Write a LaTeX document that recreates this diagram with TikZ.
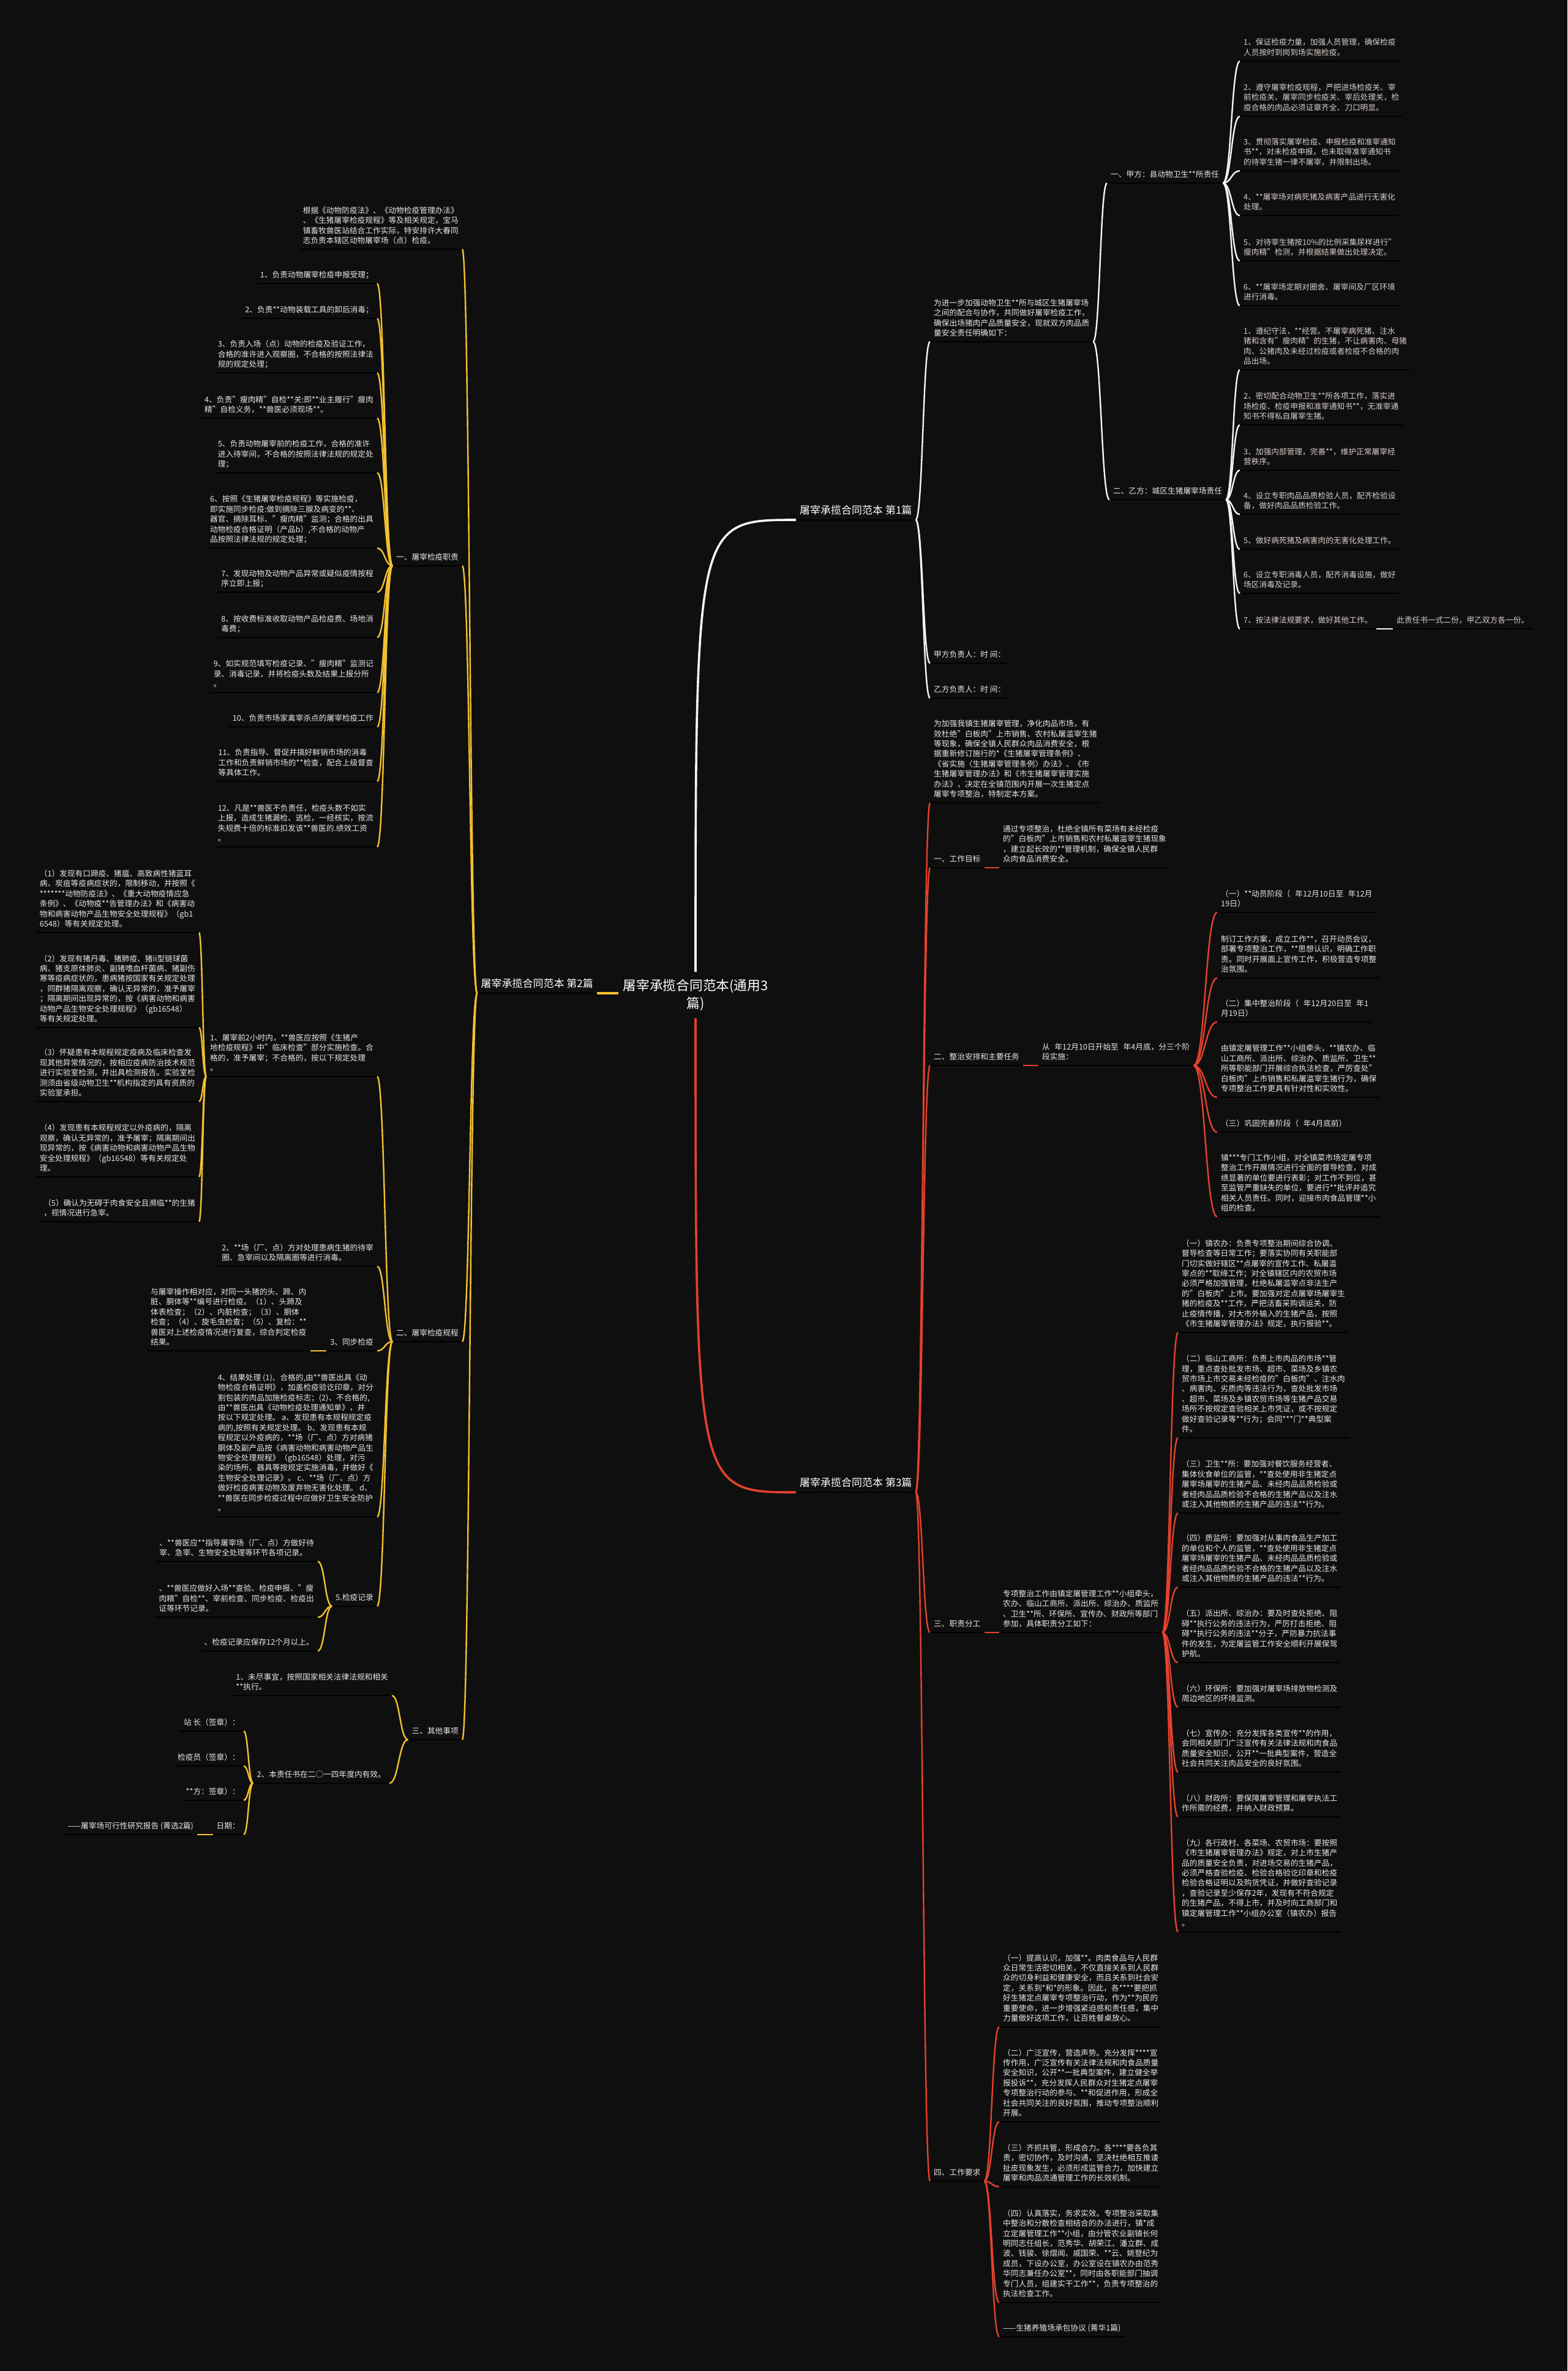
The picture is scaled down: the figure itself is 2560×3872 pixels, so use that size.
\documentclass[tikz,border=0pt]{standalone}
\usepackage{fontspec}
\setmainfont{Noto Sans CJK SC}
\usetikzlibrary{calc}

\definecolor{bg}{HTML}{0F0F0F}
\definecolor{wline}{HTML}{F4F4F4}
\definecolor{yline}{HTML}{F2C12E}
\definecolor{rline}{HTML}{E4412D}
\definecolor{txt}{HTML}{E8E8E8}
\definecolor{txtw}{HTML}{D9D0CC}

\newcommand\leaffont{\fontsize{12.7}{16.4}\selectfont}
\newcommand\topfont{\fontsize{17}{21}\selectfont}
\newcommand\rootfont{\fontsize{21.7}{29}\selectfont}

\tikzset{
  leaf/.style={inner xsep=6pt, inner ysep=4.5pt, text depth=4.9pt, align=left,
    font=\leaffont, text=txt,
    append after command={(\tikzlastnode.south west) edge[draw=black, line width=2pt] (\tikzlastnode.south east)}},
  rleaf/.style={leaf, anchor=south west},
  lleaf/.style={leaf, anchor=south east},
  wtxt/.style={text=txtw},
  top/.style={leaf, font=\topfont, text=white},
  rootbox/.style={align=center, font=\rootfont, text=white, inner xsep=8pt, inner ysep=12pt},
  link/.style={line width=2.4pt, to path={let \p1=(\tikztostart), \p2=(\tikztotarget),
    \p3=($(\p1)!0.5!(\p2)$) in .. controls (\x3,\y1) and (\x3,\y2) .. (\p2)}},
  trunk/.style={line width=3.6pt, to path={let \p1=(\tikztostart), \p2=(\tikztotarget)
    in .. controls (\x1,\y2) .. (\p2)}},
  wlink/.style={link, draw=wline},
  ylink/.style={link, draw=yline},
  rlink/.style={link, draw=rline},
}

\begin{document}
\begin{tikzpicture}[x=1pt, y=-1pt]
  % background
  \fill[bg] (0,0) rectangle (2560,3872);
  \useasboundingbox (0,0) rectangle (2560,3872);

  % root
  \node[rootbox] (root) at (1136,1625) {屠宰承揽合同范本(通用3\\篇)};

  % 第1篇
  \node[top, anchor=south west] (part1) at (1300,849) {屠宰承揽合同范本 第1篇};
  \node[rleaf] (intro1) at (1519,558) {为进一步加强动物卫生**所与城区生猪屠宰场\\之间的配合与协作，共同做好屠宰检疫工作，\\确保出场猪肉产品质量安全，现就双方肉品质\\量安全责任明确如下：};
  \node[rleaf] (jiasign) at (1519,1083) {甲方负责人：时 间：};
  \node[rleaf] (yisign) at (1519,1140) {乙方负责人：时 间：};
  \node[rleaf] (jia) at (1808,299) {一、甲方：县动物卫生**所责任};
  \node[rleaf] (yi) at (1812,816) {二、乙方：城区生猪屠宰场责任};
  \node[rleaf, wtxt] (jia1) at (2025,100) {1、保证检疫力量，加强人员管理，确保检疫\\人员按时到岗到场实施检疫。};
  \node[rleaf, wtxt] (jia2) at (2025,190) {2、遵守屠宰检疫规程，严把进场检疫关、宰\\前检疫关、屠宰同步检疫关、宰后处理关，检\\疫合格的肉品必须证章齐全、刀口明显。};
  \node[rleaf, wtxt] (jia3) at (2025,279) {3、贯彻落实屠宰检疫、申报检疫和准宰通知\\书**，对未检疫申报，也未取得准宰通知书\\的待宰生猪一律不屠宰，并限制出场。};
  \node[rleaf, wtxt] (jia4) at (2025,352) {4、**屠宰场对病死猪及病害产品进行无害化\\处理。};
  \node[rleaf, wtxt] (jia5) at (2025,426) {5、对待宰生猪按10\%的比例采集尿样进行"\\瘦肉精"检测，并根据结果做出处理决定。};
  \node[rleaf, wtxt] (jia6) at (2025,499) {6、**屠宰场定期对圈舍、屠宰间及厂区环境\\进行消毒。};
  \node[rleaf, wtxt] (yi1) at (2025,604) {1、遵纪守法，**经营。不屠宰病死猪、注水\\猪和含有"瘦肉精"的生猪，不让病害肉、母猪\\肉、公猪肉及未经过检疫或者检疫不合格的肉\\品出场。};
  \node[rleaf, wtxt] (yi2) at (2025,694) {2、密切配合动物卫生**所各项工作，落实进\\场检疫、检疫申报和准宰通知书**，无准宰通\\知书不得私自屠宰生猪。};
  \node[rleaf, wtxt] (yi3) at (2025,768) {3、加强内部管理，完善**，维护正常屠宰经\\营秩序。};
  \node[rleaf, wtxt] (yi4) at (2025,840) {4、设立专职肉品品质检验人员，配齐检验设\\备，做好肉品品质检验工作。};
  \node[rleaf, wtxt] (yi5) at (2025,897) {5、做好病死猪及病害肉的无害化处理工作。};
  \node[rleaf, wtxt] (yi6) at (2025,969) {6、设立专职消毒人员，配齐消毒设施，做好\\场区消毒及记录。};
  \node[rleaf, wtxt] (yi7) at (2025,1027) {7、按法律法规要求，做好其他工作。};
  \node[rleaf, wtxt] (copies) at (2275,1027) {此责任书一式二份，甲乙双方各一份。};

  \draw[trunk, draw=wline] (root.north) to (part1.south west);
  \foreach \m in {intro1, jiasign, yisign}
    \draw[wlink] (part1.south east) to (\m.south west);
  \foreach \m in {jia, yi}
    \draw[wlink] (intro1.south east) to (\m.south west);
  \foreach \i in {1,...,6}
    \draw[wlink] (jia.south east) to (jia\i.south west);
  \foreach \i in {1,...,7}
    \draw[wlink] (yi.south east) to (yi\i.south west);
  \draw[draw=wline, line width=2.4pt] (yi7.south east) -- (copies.south west);

  % 第2篇
  \node[top, anchor=south east] (part2) at (975,1622) {屠宰承揽合同范本 第2篇};
  \node[lleaf] (intro2) at (755,407) {根据《动物防疫法》、《动物检疫管理办法》\\、《生猪屠宰检疫规程》等及相关规定，宝马\\镇畜牧兽医站结合工作实际，特安排许大春同\\志负责本辖区动物屠宰场（点）检疫。};
  \node[lleaf] (duty) at (755,924) {一、屠宰检疫职责};
  \node[lleaf] (duty1) at (616,463) {1、负责动物屠宰检疫申报受理；};
  \node[lleaf] (duty2) at (616,520) {2、负责**动物装载工具的卸后消毒；};
  \node[lleaf] (duty3) at (616,609) {3、负责入场（点）动物的检疫及验证工作，\\合格的准许进入观察圈，不合格的按照法律法\\规的规定处理；};
  \node[lleaf] (duty4) at (616,683) {4、负责"瘦肉精"自检**关:即**业主履行"瘦肉\\精"自检义务，**兽医必须现场**。};
  \node[lleaf] (duty5) at (616,772) {5、负责动物屠宰前的检疫工作，合格的准许\\进入待宰间，不合格的按照法律法规的规定处\\理；};
  \node[lleaf] (duty6) at (616,895) {6、按照《生猪屠宰检疫规程》等实施检疫，\\即实施同步检疫:做到摘除三腺及病变的**、\\器官、摘除耳标、"瘦肉精"监测；合格的出具\\动物检疫合格证明（产品b）,不合格的动物产\\品按照法律法规的规定处理；};
  \node[lleaf] (duty7) at (616,967) {7、发现动物及动物产品异常或疑似疫情按程\\序立即上报；};
  \node[lleaf] (duty8) at (616,1041) {8、按收费标准收取动物产品检疫费、场地消\\毒费；};
  \node[lleaf] (duty9) at (616,1131) {9、如实规范填写检疫记录、"瘦肉精"监测记\\录、消毒记录，并将检疫头数及结果上报分所\\。};
  \node[lleaf] (duty10) at (616,1187) {10、负责市场家禽宰杀点的屠宰检疫工作};
  \node[lleaf] (duty11) at (616,1276) {11、负责指导、督促并搞好鲜销市场的消毒\\工作和负责鲜销市场的**检查，配合上级督查\\等具体工作。};
  \node[lleaf] (duty12) at (616,1383) {12、凡是**兽医不负责任，检疫头数不如实\\上报，造成生猪漏检、逃检，一经核实，按流\\失规费十倍的标准扣发该**兽医的.绩效工资\\。};

  \node[lleaf] (rules) at (755,2191) {二、屠宰检疫规程};
  \node[lleaf] (rule1) at (616,1758) {1、屠宰前2小时内，**兽医应按照《生猪产\\地检疫规程》中"临床检查"部分实施检查。合\\格的，准予屠宰；不合格的，按以下规定处理\\。};
  \node[lleaf] (case1) at (325,1523) {（1）发现有口蹄疫、猪瘟、高致病性猪蓝耳\\病、炭疽等疫病症状的，限制移动，并按照《\\*******动物防疫法》、《重大动物疫情应急\\条例》、《动物疫**告管理办法》和《病害动\\物和病害动物产品生物安全处理规程》（gb1\\6548）等有关规定处理。};
  \node[lleaf] (case2) at (325,1678) {（2）发现有猪丹毒、猪肺疫、猪ii型链球菌\\病、猪支原体肺炎、副猪嗜血杆菌病、猪副伤\\寒等疫病症状的，患病猪按国家有关规定处理\\，同群猪隔离观察，确认无异常的，准予屠宰\\；隔离期间出现异常的，按《病害动物和病害\\动物产品生物安全处理规程》（gb16548）\\等有关规定处理。};
  \node[lleaf] (case3) at (325,1799) {（3）怀疑患有本规程规定疫病及临床检查发\\现其他异常情况的，按相应疫病防治技术规范\\进行实验室检测，并出具检测报告。实验室检\\测须由省级动物卫生**机构指定的具有资质的\\实验室承担。};
  \node[lleaf] (case4) at (325,1922) {（4）发现患有本规程规定以外疫病的，隔离\\观察，确认无异常的，准予屠宰；隔离期间出\\现异常的，按《病害动物和病害动物产品生物\\安全处理规程》（gb16548）等有关规定处\\理。};
  \node[lleaf] (case5) at (325,1995) {（5）确认为无碍于肉食安全且濒临**的生猪\\，视情况进行急宰。};
  \node[lleaf] (rule2) at (616,2068) {2、**场（厂、点）方对处理患病生猪的待宰\\圈、急宰间以及隔离圈等进行消毒。};
  \node[lleaf] (rule3) at (616,2206) {3、同步检疫};
  \node[lleaf] (sync) at (507,2206) {与屠宰操作相对应，对同一头猪的头、蹄、内\\脏、胴体等**编号进行检疫。（1）、头蹄及\\体表检查；（2）、内脏检查；（3）、胴体\\检查；（4）、旋毛虫检查；（5）、复检：**\\兽医对上述检疫情况进行复查，综合判定检疫\\结果。};
  \node[lleaf] (rule4) at (616,2477) {4、结果处理 (1)、合格的,由**兽医出具《动\\物检疫合格证明》，加盖检疫验讫印章，对分\\割包装的肉品加施检疫标志；(2)、不合格的,\\ 由**兽医出具《动物检疫处理通知单》，并\\按以下规定处理。 a、发现患有本规程规定疫\\病的,按照有关规定处理。 b、发现患有本规\\程规定以外疫病的，**场（厂、点）方对病猪\\胴体及副产品按《病害动物和病害动物产品生\\物安全处理规程》（gb16548）处理，对污\\染的场所、器具等按规定实施消毒，并做好《\\生物安全处理记录》。 c、**场（厂、点）方\\做好检疫病害动物及废弃物无害化处理。 d、\\**兽医在同步检疫过程中应做好卫生安全防护\\。};
  \node[lleaf] (rule5) at (616,2623) {5.检疫记录};
  \node[lleaf] (rec1) at (519,2550) {、**兽医应**指导屠宰场（厂、点）方做好待\\宰、急宰、生物安全处理等环节各项记录。};
  \node[lleaf] (rec2) at (519,2641) {、**兽医应做好入场**查验、检疫申报、"瘦\\肉精"自检**、宰前检查、同步检疫、检疫出\\证等环节记录。};
  \node[lleaf] (rec3) at (519,2696) {、检疫记录应保存12个月以上。};

  \node[lleaf] (misc) at (755,2841) {三、其他事项};
  \node[lleaf] (misc1) at (640,2769) {1、未尽事宜，按照国家相关法律法规和相关\\**执行。};
  \node[lleaf] (misc2) at (636,2912) {2、本责任书在二○一四年度内有效。};
  \node[lleaf] (sign1) at (398,2827) {站 长（签章）：};
  \node[lleaf] (sign2) at (398,2884) {检疫员（签章）：};
  \node[lleaf] (sign3) at (398,2940) {**方：签章）：};
  \node[lleaf] (sign4) at (398,2996) {日期：};
  \node[lleaf] (report) at (322,2996) {——屠宰场可行性研究报告 (菁选2篇)};

  \draw[draw=yline, line width=3.6pt] (part2.south east) -- (root.west |- part2.south east);
  \foreach \m in {intro2, duty, rules, misc}
    \draw[ylink] (part2.south west) to (\m.south east);
  \foreach \i in {1,...,12}
    \draw[ylink] (duty.south west) to (duty\i.south east);
  \foreach \i in {1,...,5}
    \draw[ylink] (rules.south west) to (rule\i.south east);
  \foreach \i in {1,...,5}
    \draw[ylink] (rule1.south west) to (case\i.south east);
  \draw[draw=yline, line width=2.4pt] (rule3.south west) -- (sync.south east);
  \foreach \i in {1,2,3}
    \draw[ylink] (rule5.south west) to (rec\i.south east);
  \foreach \m in {misc1, misc2}
    \draw[ylink] (misc.south west) to (\m.south east);
  \foreach \i in {1,...,4}
    \draw[ylink] (misc2.south west) to (sign\i.south east);
  \draw[draw=yline, line width=2.4pt] (sign4.south west) -- (report.south east);

  % 第3篇
  \node[top, anchor=south west] (part3) at (1300,2437) {屠宰承揽合同范本 第3篇};
  \node[rleaf] (intro3) at (1519,1311) {为加强我镇生猪屠宰管理，净化肉品市场，有\\效杜绝"白板肉"上市销售、农村私屠滥宰生猪\\等现象，确保全镇人民群众肉品消费安全，根\\据重新修订施行的*《生猪屠宰管理条例》、\\《省实施〈生猪屠宰管理条例〉办法》、《市\\生猪屠宰管理办法》和《市生猪屠宰管理实施\\办法》，决定在全镇范围内开展一次生猪定点\\屠宰专项整治，特制定本方案。};
  \node[rleaf] (goal) at (1519,1417) {一、工作目标};
  \node[rleaf] (goaltext) at (1632,1417) {通过专项整治，杜绝全镇所有菜场有未经检疫\\的"白板肉"上市销售和农村私屠滥宰生猪现象\\，建立起长效的**管理机制，确保全镇人民群\\众肉食品消费安全。};
  \node[rleaf] (plan) at (1519,1740) {二、整治安排和主要任务};
  \node[rleaf] (plantext) at (1696,1740) {从\hspace{0.6em}年12月10日开始至\hspace{0.6em}年4月底，分三个阶\\段实施：};
  \node[rleaf] (stage1) at (1988,1490) {（一）**动员阶段（\hspace{0.6em}年12月10日至\hspace{0.6em}年12月\\19日）};
  \node[rleaf] (stage2) at (1988,1597) {制订工作方案，成立工作**，召开动员会议，\\部署专项整治工作，**思想认识，明确工作职\\责。同时开展面上宣传工作，积极营造专项整\\治氛围。};
  \node[rleaf] (stage3) at (1988,1669) {（二）集中整治阶段（\hspace{0.6em}年12月20日至\hspace{0.6em}年1\\月19日）};
  \node[rleaf] (stage4) at (1988,1792) {由镇定屠管理工作**小组牵头，**镇农办、临\\山工商所、派出所、综治办、质监所、卫生**\\所等职能部门开展综合执法检查，严厉查处"\\白板肉"上市销售和私屠滥宰生猪行为，确保\\专项整治工作更具有针对性和实效性。};
  \node[rleaf] (stage5) at (1988,1849) {（三）巩固完善阶段（\hspace{0.6em}年4月底前）};
  \node[rleaf] (stage6) at (1988,1987) {镇***专门工作小组，对全镇菜市场定屠专项\\整治工作开展情况进行全面的督导检查，对成\\绩显著的单位要进行表彰；对工作不到位，甚\\至监管严重缺失的单位，要进行**批评并追究\\相关人员责任。同时，迎接市肉食品管理**小\\组的检查。};

  \node[rleaf] (split) at (1519,2666) {三、职责分工};
  \node[rleaf] (splittext) at (1632,2666) {专项整治工作由镇定屠管理工作**小组牵头，\\农办、临山工商所、派出所、综治办、质监所\\、卫生**所、环保所、宣传办、财政所等部门\\参加，具体职责分工如下：};
  \node[rleaf] (dept1) at (1924,2176) {（一）镇农办：负责专项整治期间综合协调、\\督导检查等日常工作；要落实协同有关职能部\\门切实做好辖区**点屠宰的宣传工作、私屠滥\\宰点的**取缔工作；对全镇辖区内的农贸市场\\必须严格加强管理，杜绝私屠滥宰点非法生产\\的"白板肉"上市。要加强对定点屠宰场屠宰生\\猪的检疫及**工作，严把活畜采购调运关，防\\止疫情传播，对大市外输入的生猪产品，按照\\《市生猪屠宰管理办法》规定，执行报验**。};
  \node[rleaf] (dept2) at (1924,2348) {（二）临山工商所：负责上市肉品的市场**管\\理，重点查处批发市场、超市、菜场及乡镇农\\贸市场上市交易未经检疫的"白板肉"、注水肉\\、病害肉、劣质肉等违法行为，查处批发市场\\、超市、菜场及乡镇农贸市场等生猪产品交易\\场所不按规定查验相关上市凭证，或不按规定\\做好查验记录等**行为；会同***门**典型案\\件。};
  \node[rleaf] (dept3) at (1924,2471) {（三）卫生**所：要加强对餐饮服务经营者、\\集体伙食单位的监管，**查处使用非生猪定点\\屠宰场屠宰的生猪产品、未经肉品品质检验或\\者经肉品品质检验不合格的生猪产品以及注水\\或注入其他物质的生猪产品的违法**行为。};
  \node[rleaf] (dept4) at (1924,2592) {（四）质监所：要加强对从事肉食品生产加工\\的单位和个人的监管，**查处使用非生猪定点\\屠宰场屠宰的生猪产品、未经肉品品质检验或\\者经肉品品质检验不合格的生猪产品以及注水\\或注入其他物质的生猪产品的违法**行为。};
  \node[rleaf] (dept5) at (1924,2715) {（五）派出所、综治办：要及时查处拒绝、阻\\碍**执行公务的违法行为，严厉打击拒绝、阻\\碍**执行公务的违法**分子，严防暴力抗法事\\件的发生，为定屠监管工作安全顺利开展保驾\\护航。};
  \node[rleaf] (dept6) at (1924,2788) {（六）环保所：要加强对屠宰场排放物检测及\\周边地区的环境监测。};
  \node[rleaf] (dept7) at (1924,2894) {（七）宣传办：充分发挥各类宣传**的作用，\\会同相关部门广泛宣传有关法律法规和肉食品\\质量安全知识，公开**一批典型案件，营造全\\社会共同关注肉品安全的良好氛围。};
  \node[rleaf] (dept8) at (1924,2967) {（八）财政所：要保障屠宰管理和屠宰执法工\\作所需的经费，并纳入财政预算。};
  \node[rleaf] (dept9) at (1924,3155) {（九）各行政村、各菜场、农贸市场：要按照\\《市生猪屠宰管理办法》规定，对上市生猪产\\品的质量安全负责，对进场交易的生猪产品，\\必须严格查验检疫、检验合格验讫印章和检疫\\检验合格证明以及购货凭证，并做好查验记录\\，查验记录至少保存2年，发现有不符合规定\\的生猪产品，不得上市，并及时向工商部门和\\镇定屠管理工作**小组办公室（镇农办）报告\\。};

  \node[rleaf] (req) at (1519,3562) {四、工作要求};
  \node[rleaf] (req1) at (1632,3310) {（一）提高认识，加强**。肉类食品与人民群\\众日常生活密切相关，不仅直接关系到人民群\\众的切身利益和健康安全，而且关系到社会安\\定，关系到*和*的形象。因此，各****要把抓\\好生猪定点屠宰专项整治行动，作为**为民的\\重要使命，进一步增强紧迫感和责任感，集中\\力量做好这项工作，让百姓餐桌放心。};
  \node[rleaf] (req2) at (1632,3465) {（二）广泛宣传，营造声势。充分发挥****宣\\传作用，广泛宣传有关法律法规和肉食品质量\\安全知识，公开**一批典型案件，建立健全举\\报投诉**，充分发挥人民群众对生猪定点屠宰\\专项整治行动的参与、**和促进作用，形成全\\社会共同关注的良好氛围，推动专项整治顺利\\开展。};
  \node[rleaf] (req3) at (1632,3571) {（三）齐抓共管，形成合力。各****要各负其\\责，密切协作，及时沟通，坚决杜绝相互推诿\\扯皮现象发生，必须形成监管合力，加快建立\\屠宰和肉品流通管理工作的长效机制。};
  \node[rleaf] (req4) at (1632,3760) {（四）认真落实，务求实效。专项整治采取集\\中整治和分散检查相结合的办法进行，镇*成\\立定屠管理工作**小组，由分管农业副镇长何\\明同志任组长，范秀华、胡荣江、潘立群、成\\波、钱骏、徐熠闻、戚国荣、**云、姚登纪为\\成员，下设办公室，办公室设在镇农办由范秀\\华同志兼任办公室**，同时由各职能部门抽调\\专门人员，组建实干工作**，负责专项整治的\\执法检查工作。};
  \node[rleaf] (req5) at (1632,3816) {——生猪养殖场承包协议 (菁华1篇)};

  \draw[trunk, draw=rline] (root.south) to (part3.south west);
  \foreach \m in {intro3, goal, plan, split, req}
    \draw[rlink] (part3.south east) to (\m.south west);
  \draw[draw=rline, line width=2.4pt] (goal.south east) -- (goaltext.south west);
  \draw[draw=rline, line width=2.4pt] (plan.south east) -- (plantext.south west);
  \draw[draw=rline, line width=2.4pt] (split.south east) -- (splittext.south west);
  \foreach \i in {1,...,6}
    \draw[rlink] (plantext.south east) to (stage\i.south west);
  \foreach \i in {1,...,9}
    \draw[rlink] (splittext.south east) to (dept\i.south west);
  \foreach \i in {1,...,5}
    \draw[rlink] (req.south east) to (req\i.south west);
\end{tikzpicture}
\end{document}
